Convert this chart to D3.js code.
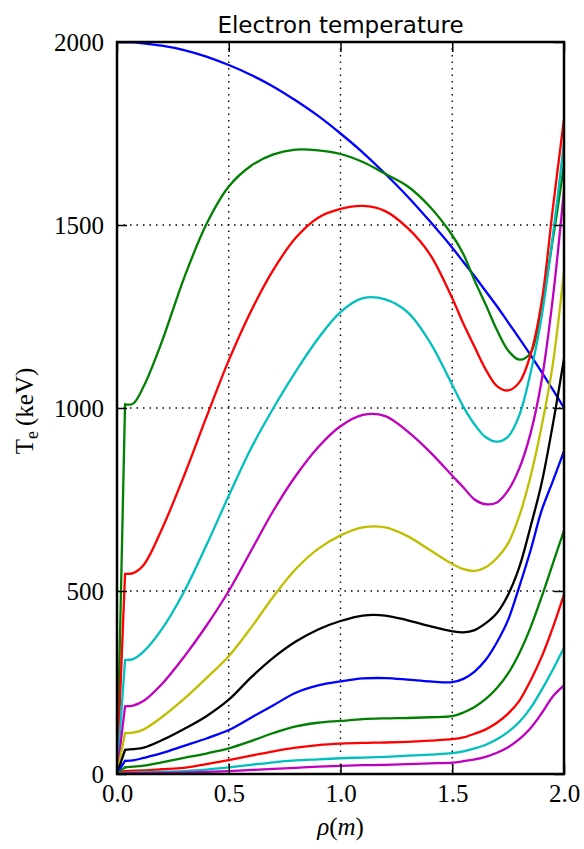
<!DOCTYPE html>
<html>
<head>
<meta charset="utf-8">
<script src="https://cdn.jsdelivr.net/npm/d3@7"></script>
<style>
  html, body { margin: 0; padding: 0; background: #fff; }
  svg { display: block; }
</style>
</head>
<body>
<svg id="chart" width="584" height="849"></svg>
<script>
// ---- data ----
const rho = [0, 0.036, 0.072, 0.12, 0.2, 0.3, 0.4, 0.5, 0.6, 0.7, 0.8, 0.9, 1.0, 1.1, 1.2, 1.3, 1.4, 1.5, 1.55, 1.6, 1.65, 1.7, 1.75, 1.8, 1.85, 1.9, 1.95, 2.0];

const te01 = [2000, 2000, 1999, 1996, 1990, 1978, 1960, 1937, 1910, 1878, 1840, 1798, 1750, 1698, 1640, 1578, 1510, 1438, 1399, 1360, 1319, 1278, 1234, 1190, 1145, 1098, 1050, 1000];
const te02 = [0, 1010, 1012, 1060, 1180, 1355, 1502, 1605, 1662, 1693, 1706, 1704, 1694, 1672, 1640, 1606, 1550, 1472, 1420, 1348, 1282, 1213, 1157, 1132, 1150, 1280, 1460, 1665];
const te03 = [0, 547, 549, 572, 668, 815, 975, 1130, 1265, 1378, 1465, 1520, 1544, 1552, 1538, 1492, 1420, 1300, 1230, 1167, 1105, 1060, 1048, 1070, 1145, 1290, 1545, 1790];
const te04 = [0, 312, 314, 335, 395, 498, 625, 760, 890, 1000, 1100, 1190, 1262, 1300, 1297, 1262, 1180, 1063, 1003, 955, 920, 908, 922, 980, 1095, 1250, 1470, 1725];
const te05 = [0, 185, 187, 200, 245, 320, 405, 500, 610, 720, 815, 893, 950, 981, 978, 936, 880, 815, 783, 750, 737, 742, 775, 835, 930, 1075, 1300, 1595];
const te06 = [0, 112, 113, 122, 155, 205, 262, 322, 400, 485, 560, 615, 652, 674, 674, 650, 612, 574, 560, 555, 565, 590, 630, 705, 812, 950, 1120, 1375];
const te07 = [0, 66, 68, 72, 92, 123, 158, 203, 264, 318, 362, 395, 418, 433, 433, 420, 404, 390, 387, 393, 412, 440, 490, 565, 675, 795, 955, 1135];
const te08 = [0, 36, 37, 44, 57, 77, 97, 120, 154, 188, 222, 242, 253, 261, 262, 258, 253, 251, 260, 280, 312, 360, 421, 512, 610, 720, 800, 882];
const te09 = [0, 18, 20, 23, 32, 44, 56, 70, 90, 112, 130, 140, 145, 150, 152, 153, 155, 158, 168, 183, 205, 235, 275, 330, 400, 484, 575, 665];
const te10 = [0, 8, 9, 10, 13, 17, 27, 38, 50, 62, 72, 79, 83, 85, 86, 88, 91, 95, 100, 110, 122, 140, 165, 200, 255, 320, 400, 490];
const te11 = [0, 3, 4, 5, 6, 8, 12, 18, 25, 32, 37, 40, 43, 45, 47, 50, 53, 57, 62, 70, 80, 95, 115, 142, 180, 230, 285, 345];
const te12 = [0, 1, 2, 2, 3, 4, 6, 8, 11, 14, 17, 20, 22, 24, 25, 27, 29, 31, 35, 40, 47, 58, 73, 95, 125, 166, 212, 242];

const profiles = [te01, te02, te03, te04, te05, te06, te07, te08, te09, te10, te11, te12];
const lineColors = ["#0000ff", "#008000", "#ff0000", "#00bfbf", "#bf00bf", "#bfbf00", "#000000"];

const xTicks = [0, 0.5, 1.0, 1.5, 2.0];
const yTicks = [0, 500, 1000, 1500, 2000];

const titleText = "Electron temperature";

// ---- layout ----
const svg = d3.select("#chart");
const L = 117, R = 564, T = 42, B = 774;

const x = d3.scaleLinear().domain([0, 2]).range([L, R]);
const y = d3.scaleLinear().domain([0, 2000]).range([B, T]);

const serif = "'Liberation Serif', 'Times New Roman', serif";

// grid (dotted)
const grid = svg.append("g");
grid.selectAll("line.gx").data(xTicks).join("line")
  .attr("x1", d => x(d)).attr("x2", d => x(d))
  .attr("y1", T).attr("y2", B)
  .attr("stroke", "#000").attr("stroke-width", 1.4)
  .attr("stroke-dasharray", "1.5,5");
grid.selectAll("line.gy").data(yTicks).join("line")
  .attr("y1", d => y(d)).attr("y2", d => y(d))
  .attr("x1", L).attr("x2", R)
  .attr("stroke", "#000").attr("stroke-width", 1.4)
  .attr("stroke-dasharray", "1.5,5");

// clip
svg.append("clipPath").attr("id", "clip")
  .append("rect").attr("x", L).attr("y", T).attr("width", R - L).attr("height", B - T);

// points of one profile
const pts = v => v.map((d, i) => [rho[i], d]);

// straight first step, smooth afterwards
const lineStraight = d3.line().x(d => x(d[0])).y(d => y(d[1])).curve(d3.curveLinear);
const lineSmooth = d3.line().x(d => x(d[0])).y(d => y(d[1])).curve(d3.curveCatmullRom.alpha(0.5));

const curves = svg.append("g").attr("clip-path", "url(#clip)");
profiles.forEach((v, k) => {
  const p = pts(v);
  const col = lineColors[k % lineColors.length];
  const g = curves.append("g")
    .attr("fill", "none").attr("stroke", col)
    .attr("stroke-width", 2.3).attr("stroke-linejoin", "round").attr("stroke-linecap", "round");
  g.append("path").attr("d", lineStraight(p.slice(0, 2)));
  g.append("path").attr("d", lineSmooth(p.slice(1)));
});

// axes
const fmtX = d3.format(".1f");
const axB = svg.append("g").attr("transform", `translate(0,${B})`)
  .call(d3.axisBottom(x).tickValues(xTicks).tickFormat(fmtX).tickSizeInner(-10).tickSizeOuter(0).tickPadding(10));
const axL = svg.append("g").attr("transform", `translate(${L},0)`)
  .call(d3.axisLeft(y).tickValues(yTicks).tickFormat(d3.format("d")).tickSizeInner(-10).tickSizeOuter(0).tickPadding(13));
const axT = svg.append("g").attr("transform", `translate(0,${T})`)
  .call(d3.axisTop(x).tickValues(xTicks).tickFormat("").tickSizeInner(-10).tickSizeOuter(0));
const axR = svg.append("g").attr("transform", `translate(${R},0)`)
  .call(d3.axisRight(y).tickValues(yTicks).tickFormat("").tickSizeInner(-10).tickSizeOuter(0));

[axB, axL, axT, axR].forEach(a => {
  a.select(".domain").remove();
  a.selectAll(".tick line").attr("stroke", "#000").attr("stroke-width", 1.5);
  a.selectAll(".tick text").attr("font-family", serif).attr("font-size", 25).attr("fill", "#000");
});

// frame
svg.append("rect").attr("x", L).attr("y", T).attr("width", R - L).attr("height", B - T)
  .attr("fill", "none").attr("stroke", "#000").attr("stroke-width", 2.5);

// title
svg.append("text").attr("x", (L + R) / 2).attr("y", 33)
  .attr("text-anchor", "middle")
  .attr("font-family", "'DejaVu Sans', sans-serif").attr("font-size", 23)
  .text(titleText);

// x label
const xl = svg.append("text").attr("x", (L + R) / 2).attr("y", 835)
  .attr("text-anchor", "middle").attr("font-family", serif).attr("font-size", 25);
xl.append("tspan").attr("font-style", "italic").text("ρ");
xl.append("tspan").text("(");
xl.append("tspan").attr("font-style", "italic").text("m");
xl.append("tspan").text(")");

// y label
const yl = svg.append("text")
  .attr("transform", `translate(33,${(T + B) / 2 + 3}) rotate(-90)`)
  .attr("text-anchor", "middle").attr("font-family", serif).attr("font-size", 25);
yl.append("tspan").text("T");
yl.append("tspan").attr("font-size", 18).attr("dy", 5).text("e");
yl.append("tspan").attr("dy", -5).text("\u2009(keV)");
</script>
</body>
</html>
